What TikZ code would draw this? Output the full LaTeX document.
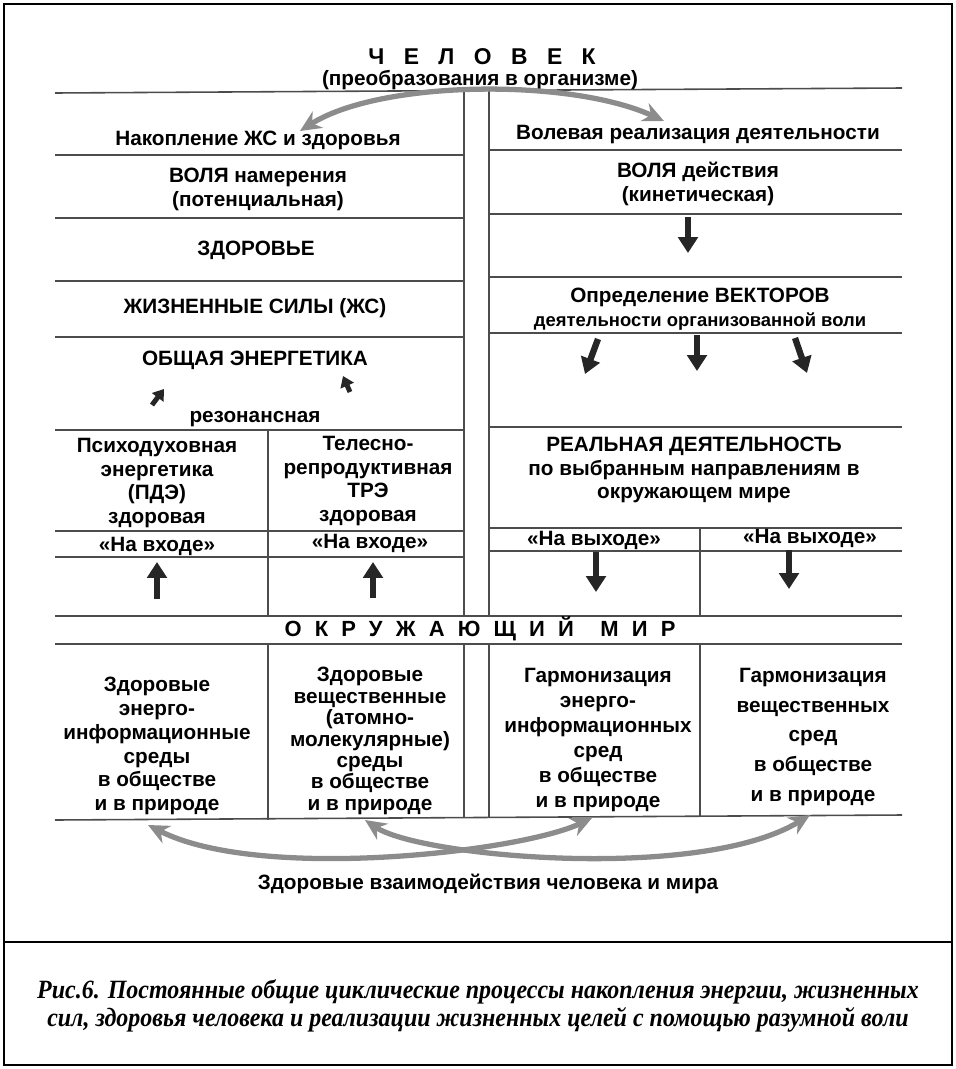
\documentclass[tikz,border=0pt]{standalone}
\usepackage{fontspec}
\setmainfont{Liberation Sans}
\newfontfamily\capfont[FakeStretch=0.91]{Liberation Serif}
\usetikzlibrary{arrows.meta,positioning}

\begin{document}
\begin{tikzpicture}[x=0.02cm, y=-0.02cm,
  rule/.style={draw=black!70, line width=0.9pt},
  lbl/.style={font=\bfseries\fontsize{11.8}{13.6}\selectfont, align=center, inner sep=0pt},
  spaced/.style={font=\bfseries\fontsize{12.5}{14}\selectfont\addfontfeatures{LetterSpace=60}, inner sep=0pt},
  blockarr/.style={draw=black!85, line width=3.6pt, -{Triangle[length=9pt,width=11pt]}},
  bigcurve/.style={draw=black!45, line width=3pt, {Stealth[length=12pt,width=11pt]}-{Stealth[length=12pt,width=11pt]}},
]
  \useasboundingbox (0,0) rectangle (956,1069);
  % frame and caption divider
  \draw[line width=1.2pt] (4,4) rectangle (952,1065);
  \draw[line width=1.2pt] (4,942) -- (952,942);

  % table rules
  \draw[rule] (55,93) -- (902,88);
  \foreach \y in {155,218,281,337,430,531,557} \draw[rule] (55,\y) -- (464,\y);
  \foreach \y in {150,214,277,333,427,528,551} \draw[rule] (489,\y) -- (902,\y);
  \draw[rule] (55,616) -- (902,616);
  \draw[rule] (55,644) -- (902,644);
  \draw[rule] (55,820) -- (902,815);
  \foreach \x in {464,489} {
    \draw[rule] (\x,91) -- (\x,616);
    \draw[rule] (\x,644) -- (\x,818);
  }
  \draw[rule] (268,430) -- (268,616);
  \draw[rule] (268,644) -- (268,820);
  \draw[rule] (700,528) -- (700,616);
  \draw[rule] (700,644) -- (700,816);

  % header
  \node[spaced, font=\bfseries\fontsize{13}{14}\selectfont\addfontfeatures{LetterSpace=85}] (title) at (482,57) {ЧЕЛОВЕК};
  \node[lbl] (subtitle) at (480,80) {(преобразования в организме)};

  % left column
  \node[lbl] (accum) at (258,140) {Накопление ЖС и здоровья};
  \node[lbl] (volint) at (258,189) {ВОЛЯ намерения\\(потенциальная)};
  \node[lbl] (health) at (256,250) {ЗДОРОВЬЕ};
  \node[lbl] (vital) at (255,308) {ЖИЗНЕННЫЕ СИЛЫ (ЖС)};
  \node[lbl] (genen) at (255,360) {ОБЩАЯ ЭНЕРГЕТИКА};
  \node[lbl] (reson) at (255,419) {резонансная};
  \node[lbl] (pde) at (157,483) {Психодуховная\\энергетика\\(ПДЭ)\\здоровая};
  \node[lbl] (tre) at (368,481) {Телесно-\\репродуктивная\\ТРЭ\\здоровая};
  \node[lbl] (inA) at (157,546) {«На входе»};
  \node[lbl] (inB) at (370,543) {«На входе»};

  % right column
  \node[lbl] (volreal) at (698,135) {Волевая реализация деятельности};
  \node[lbl] (volact) at (698,184) {ВОЛЯ действия\\(кинетическая)};
  \node[lbl] (defvec) at (700,297) {Определение ВЕКТОРОВ};
  \node[lbl, font=\bfseries\fontsize{10.5}{12}\selectfont, below=3pt of defvec] (defsub) {деятельности организованной воли};
  \node[lbl] (realact) at (694,470) {РЕАЛЬНАЯ ДЕЯТЕЛЬНОСТЬ\\по выбранным направлениям в\\окружающем мире};
  \node[lbl] (outA) at (594,540) {«На выходе»};
  \node[lbl] (outB) at (810,538) {«На выходе»};

  % surrounding world
  \node[spaced] (world) at (480,629) {ОКРУЖАЮЩИЙ\hspace{1.2em}МИР};
  \node[lbl] (envA) at (157,746) {Здоровые\\энерго-\\информационные\\среды\\в обществе\\и в природе};
  \node[lbl, font=\bfseries\fontsize{11.8}{12.2}\selectfont] (envB) at (370,741) {Здоровые\\вещественные\\(атомно-\\молекулярные)\\среды\\в обществе\\и в природе};
  \node[lbl, font=\bfseries\fontsize{11.8}{14.2}\selectfont] (envC) at (598,740) {Гармонизация\\энерго-\\информационных\\сред\\в обществе\\и в природе};
  \node[lbl, font=\bfseries\fontsize{11.8}{17}\selectfont] (envD) at (813,737) {Гармонизация\\вещественных\\сред\\в обществе\\и в природе};
  \node[lbl] (interact) at (488,884) {Здоровые взаимодействия человека и мира};

  \node[font=\capfont\bfseries\itshape\fontsize{15}{16.3}\selectfont, align=center, inner sep=0pt] (caption) at (478,1006)
    {Рис.6. Постоянные общие циклические процессы накопления энергии, жизненных\\
     сил, здоровья человека и реализации жизненных целей с помощью разумной воли};

  % arrow ends
  \coordinate (capL) at (300,131);
  \coordinate (capR) at (664,121);
  \coordinate (wA1) at (592,818);
  \coordinate (wA2) at (148,825);
  \coordinate (wB1) at (365,820);
  \coordinate (wB2) at (810,815);

  % big grey curves
  \draw[bigcurve] (capL) .. controls (380,80) and (570,78) .. (capR);
  \draw[bigcurve] (wA2) .. controls (260,882) and (520,852) .. (wA1);
  \draw[bigcurve] (wB1) .. controls (420,857) and (700,882) .. (wB2);

  % block arrows
  \coordinate (v0a) at (688,217);  \coordinate (v0b) at (688,253);
  \coordinate (v1a) at (598,339);  \coordinate (v1b) at (585,374);
  \coordinate (v2a) at (697,335);  \coordinate (v2b) at (697,371);
  \coordinate (v3a) at (795,338);  \coordinate (v3b) at (807,373);
  \coordinate (r1a) at (152,405);  \coordinate (r1b) at (164,389);
  \coordinate (r2a) at (350,392);  \coordinate (r2b) at (343,376);
  \coordinate (u1a) at (157,599);  \coordinate (u1b) at (157,562);
  \coordinate (u2a) at (373,598);  \coordinate (u2b) at (373,562);
  \coordinate (d1a) at (596,552);  \coordinate (d1b) at (596,592);
  \coordinate (d2a) at (789,550);  \coordinate (d2b) at (789,589);
  \foreach \n in {v0,v1,v2,v3,u1,u2,d1,d2}
    \draw[blockarr] (\n a) -- (\n b);
  \foreach \n in {r1,r2}
    \draw[blockarr, line width=2.8pt, -{Triangle[length=6pt,width=8pt]}] (\n a) -- (\n b);
\end{tikzpicture}
\end{document}
